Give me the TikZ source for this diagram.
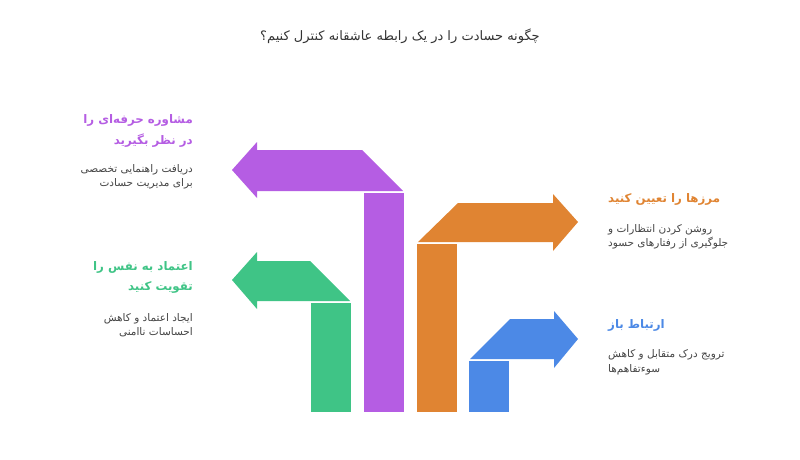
\documentclass[tikz,border=0pt]{standalone}
\usepackage{fontspec}
\newfontfamily\fa[Script=Arabic]{DejaVu Sans}
\TeXXeTstate=1
\newcommand\rtl[1]{\beginR#1\endR}
\definecolor{cpurple}{HTML}{B55DE3}
\definecolor{cgreen}{HTML}{3FC486}
\definecolor{corange}{HTML}{E08432}
\definecolor{cblue}{HTML}{4C89E6}
\definecolor{cdesc}{HTML}{444444}
\definecolor{ctitle}{HTML}{333333}
\tikzset{
  ttl/.style={inner sep=0pt, font=\fa\bfseries\fontsize{11.8}{14}\selectfont},
  dsc/.style={inner sep=0pt, text=cdesc, font=\fa\fontsize{10.5}{13}\selectfont},
}
\begin{document}
\begin{tikzpicture}[x=1pt,y=-1pt]
\path[use as bounding box, fill=white] (0,0) rectangle (800,460);
% title
\node[inner sep=0pt, anchor=base, text=ctitle, font=\fa\fontsize{13}{15}\selectfont] (title) at (400,41) {\rtl{چگونه حسادت را در یک رابطه عاشقانه کنترل کنیم؟}};
% arrows
\fill[cpurple] (403,191) -- (362,150) -- (257,150) -- (257,142) -- (232,170) -- (257,198) -- (257,191) -- cycle;
\fill[cpurple] (364,193) rectangle (404,412);
\fill[cgreen] (350,301) -- (310,261) -- (257,261) -- (257,252) -- (232,280) -- (257,309) -- (257,301) -- cycle;
\fill[cgreen] (311,303) rectangle (351,412);
\fill[corange] (418,242) -- (458,203) -- (553,203) -- (553,194) -- (578,222) -- (553,251) -- (553,242) -- cycle;
\fill[corange] (417,244) rectangle (457,412);
\fill[cblue] (470,359) -- (510,319) -- (554,319) -- (554,311) -- (578,339) -- (554,368) -- (554,359) -- cycle;
\fill[cblue] (469,361) rectangle (509,412);
% purple texts
\node[ttl, text=cpurple, anchor=base east] (p1) at (193,123) {\rtl{مشاوره حرفه‌ای را}};
\node[ttl, text=cpurple, anchor=base east] (p2) at (193,144) {\rtl{در نظر بگیرید}};
\node[dsc, anchor=base east] (p3) at (193,172) {\rtl{دریافت راهنمایی تخصصی}};
\node[dsc, anchor=base east] (p4) at (193,186) {\rtl{برای مدیریت حسادت}};
% green texts
\node[ttl, text=cgreen, anchor=base east] (g1) at (193,270) {\rtl{اعتماد به نفس را}};
\node[ttl, text=cgreen, anchor=base east] (g2) at (193,290) {\rtl{تقویت کنید}};
\node[dsc, anchor=base east] (g3) at (193,321) {\rtl{ایجاد اعتماد و کاهش}};
\node[dsc, anchor=base east] (g4) at (193,335) {\rtl{احساسات ناامنی}};
% orange texts
\node[ttl, text=corange, anchor=base west] (o1) at (608,202) {\rtl{مرزها را تعیین کنید}};
\node[dsc, anchor=base west] (o2) at (608,232) {\rtl{روشن کردن انتظارات و}};
\node[dsc, anchor=base west] (o3) at (608,246) {\rtl{جلوگیری از رفتارهای حسود}};
% blue texts
\node[ttl, text=cblue, anchor=base west] (b1) at (608,328) {\rtl{ارتباط باز}};
\node[dsc, anchor=base west] (b2) at (608,357) {\rtl{ترویج درک متقابل و کاهش}};
\node[dsc, anchor=base west] (b3) at (608,372) {\rtl{سوءتفاهم‌ها}};
\end{tikzpicture}
\end{document}
